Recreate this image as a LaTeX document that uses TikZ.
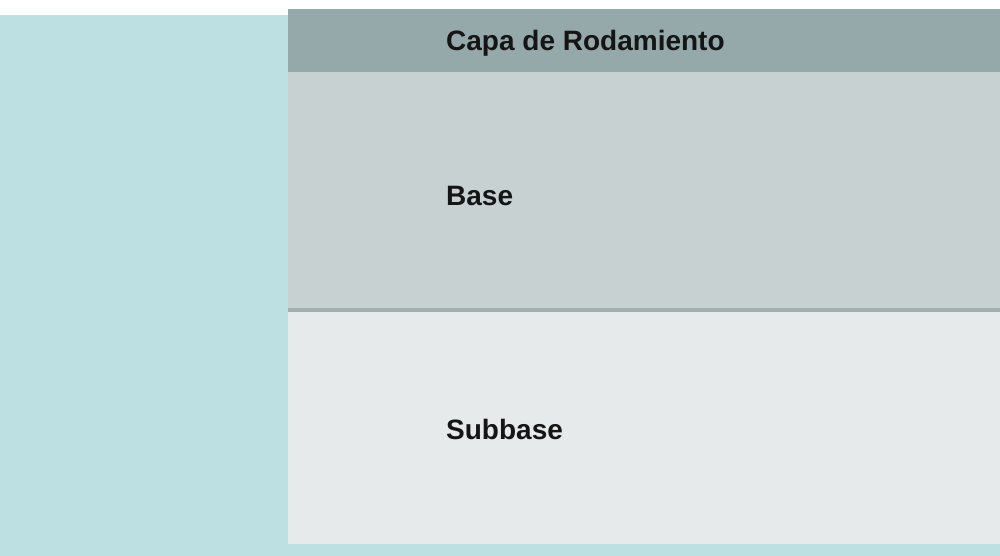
\documentclass[tikz,border=0pt]{standalone}
\usepackage{fontspec}
\setmainfont{Liberation Sans}
\definecolor{tealbg}{HTML}{BDE0E3}
\definecolor{topband}{HTML}{95A8AA}
\definecolor{baselayer}{HTML}{C8D1D2}
\definecolor{sublayer}{HTML}{E6EAEA}
\definecolor{divline}{HTML}{9FAEAF}
\definecolor{labeltext}{HTML}{151515}
\begin{document}
\begin{tikzpicture}[x=1pt,y=-1pt,
  layerlabel/.style={anchor=base west,inner sep=0pt,font=\fontsize{28}{32}\selectfont\bfseries,text=labeltext}]
\useasboundingbox (0,0) rectangle (1000,556);
\fill[white] (0,0) rectangle (1000,556);
\fill[tealbg] (0,15) rectangle (1000,556);
\fill[topband] (288,9) rectangle (1000,72);
\fill[baselayer] (288,72) rectangle (1000,309);
\fill[divline] (288,308) rectangle (1000,312);
\fill[sublayer] (288,312) rectangle (1000,544);
\node[layerlabel] (capa) at (446,51) {Capa de Rodamiento};
\node[layerlabel] (base) at (446,205) {Base};
\node[layerlabel] (subbase) at (446,439) {Subbase};
\end{tikzpicture}
\end{document}
